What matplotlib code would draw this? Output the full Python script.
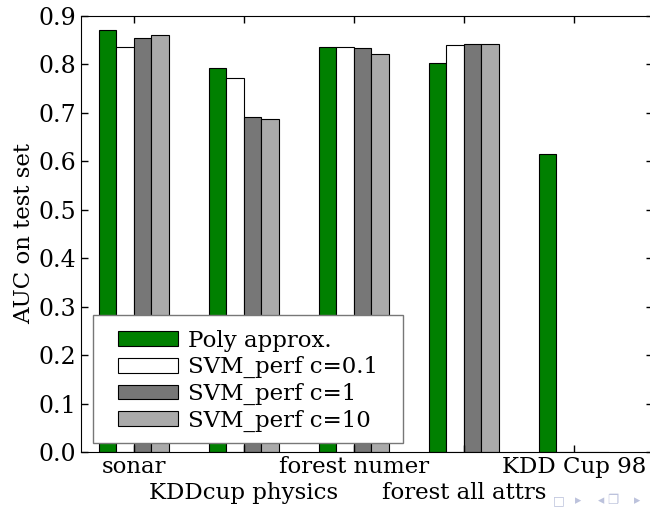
import matplotlib
matplotlib.use("Agg")
import matplotlib.pyplot as plt
from matplotlib.patches import Rectangle
import numpy as np

datasets = ["sonar", "KDDcup physics", "forest numer", "forest all attrs", "KDD Cup 98"]
poly = [0.871, 0.792, 0.836, 0.804, 0.615]
svm_01 = [0.837, 0.773, 0.836, 0.840, 0.0]
svm_1 = [0.855, 0.692, 0.834, 0.843, 0.0]
svm_10 = [0.861, 0.688, 0.822, 0.842, 0.0]

series = [poly, svm_01, svm_1, svm_10]
names = ["Poly approx.", "SVM_perf c=0.1", "SVM_perf c=1", "SVM_perf c=10"]
colors = ["green", "white", "#777777", "#aaaaaa"]

plt.rcParams['font.family'] = 'DejaVu Serif'
fs = 16.5

fig = plt.figure(figsize=(6.5, 5.08), dpi=100)
ax = fig.add_axes([81/650., 1-452/508., 572/650., 436/508.])

ind = np.arange(len(datasets))
w = 0.16
for i, (vals, name, c) in enumerate(zip(series, names, colors)):
    ax.bar(ind + (i - 2) * w, vals, w, align='edge', color=c,
           edgecolor='black', linewidth=0.8, label=name)

ax.set_xlim(-0.48, 4.72)
ax.set_ylim(0, 0.9)
ax.set_yticks(np.arange(0, 0.91, 0.1))
ax.set_yticklabels(["%.1f" % v for v in np.arange(0, 0.91, 0.1)], fontsize=17)
ax.set_xticks(ind)
ax.set_xticklabels([d if k % 2 == 0 else "\n" + d for k, d in enumerate(datasets)],
                   fontsize=fs, linespacing=1.2)
ax.tick_params(direction='in', top=True, right=True, length=5, width=1)
ax.tick_params(axis='x', pad=3)
ax.set_ylabel("AUC on test set", fontsize=fs, labelpad=2)

# legend box is wider than matplotlib's padding gives, so draw the frame by hand
ax.add_patch(Rectangle((0.021, 0.021), 0.542, 0.294, transform=ax.transAxes,
                       facecolor='white', edgecolor='#777777', linewidth=1.0,
                       zorder=4))
leg = ax.legend(loc='lower left', bbox_to_anchor=(0.0647, 0.046), fontsize=fs,
                frameon=False, handlelength=2.6, handleheight=0.6, borderpad=0,
                labelspacing=0.2, handletextpad=0.45, borderaxespad=0)
leg.set_zorder(5)

# beamer navigation symbols
nav = [(553, u"\u25a1"), (575, u"\u25b8"), (598, u"\u25c2"), (607, u"\u2750"), (634, u"\u25b8")]
for px, s in nav:
    fig.text(px / 650., 1 - 501 / 508., s, fontsize=9, color='#bcc2dc',
             family='DejaVu Sans', ha='left', va='center')

fig.savefig("out.png", dpi=100)
